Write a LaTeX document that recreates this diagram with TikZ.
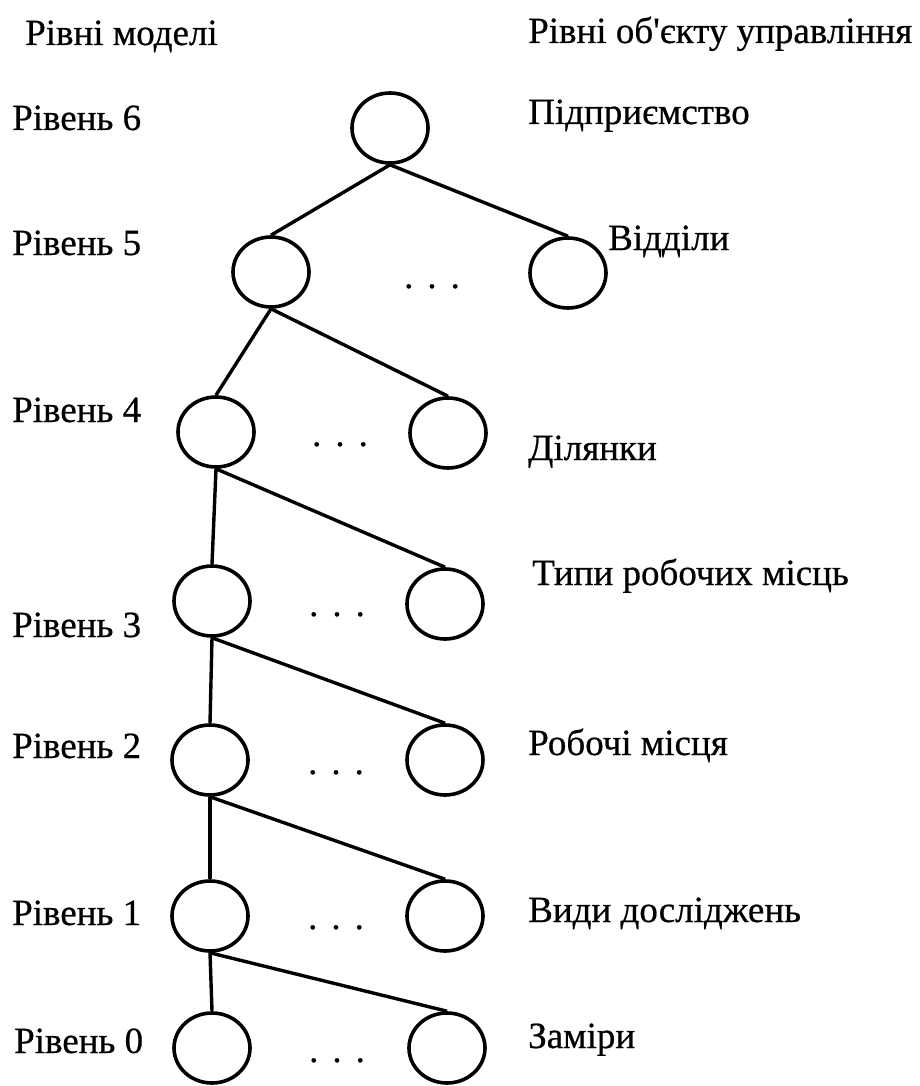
\documentclass[tikz,border=0pt]{standalone}
\usepackage{fontspec}
\setmainfont{Liberation Serif}
\newfontfamily\labelfont[FakeBold=0.6]{Liberation Serif}
\usetikzlibrary{shapes.geometric}
\begin{document}
\begin{tikzpicture}[x=1pt,y=-1pt,
  every node/.style={font=\labelfont\fontsize{37}{42}\selectfont},
  vertex/.style={draw, line width=3.6pt, ellipse, inner sep=0pt,
                 minimum width=76pt, minimum height=70pt},
  label/.style={anchor=base west, inner sep=0pt},
  dots/.style={anchor=base, inner sep=0pt},
  link/.style={line width=3.4pt}]
\useasboundingbox (0,0) rectangle (920,1086);

% column headings
\node[label] (hl) at (25,45) {Рівні моделі};
\node[label] (hr) at (528,43) {Рівні об\textquotesingle єкту управління};

% model levels
\node[label] (r6) at (12,130) {Рівень 6};
\node[label] (r5) at (12,255) {Рівень 5};
\node[label] (r4) at (12,422) {Рівень 4};
\node[label] (r3) at (12,637) {Рівень 3};
\node[label] (r2) at (12,758) {Рівень 2};
\node[label] (r1) at (12,925) {Рівень 1};
\node[label] (r0) at (14,1053) {Рівень 0};

% objects of control
\node[label] (o6) at (528,124) {Підприємство};
\node[label] (o5) at (608,250) {Відділи};
\node[label] (o4) at (528,460) {Ділянки};
\node[label] (o3) at (532,585) {Типи робочих місць};
\node[label] (o2) at (528,755) {Робочі місця};
\node[label] (o1) at (528,922) {Види досліджень};
\node[label] (o0) at (528,1048) {Заміри};

% tree vertices
\node[vertex] (v6)  at (390,128) {};
\node[vertex] (v5a) at (271,272) {};
\node[vertex] (v5b) at (568,273) {};
\node[vertex] (v4a) at (216,432) {};
\node[vertex] (v4b) at (448,433) {};
\node[vertex] (v3a) at (212,601) {};
\node[vertex] (v3b) at (445,604) {};
\node[vertex] (v2a) at (210,760) {};
\node[vertex] (v2b) at (445,760) {};
\node[vertex] (v1a) at (210,916) {};
\node[vertex] (v1b) at (445,916) {};
\node[vertex] (v0a) at (212,1048) {};
\node[vertex] (v0b) at (447,1048) {};

% ellipses between siblings
\node[dots] (d5) at (432,288) {.\hspace{14pt}.\hspace{14pt}.};
\node[dots] (d4) at (340,446) {.\hspace{14pt}.\hspace{14pt}.};
\node[dots] (d3) at (337,616) {.\hspace{14pt}.\hspace{14pt}.};
\node[dots] (d2) at (336,774) {.\hspace{14pt}.\hspace{14pt}.};
\node[dots] (d1) at (336,929) {.\hspace{14pt}.\hspace{14pt}.};
\node[dots] (d0) at (337,1062) {.\hspace{14pt}.\hspace{14pt}.};

% connections
\draw[link] (v6.south) -- (v5a.north);
\draw[link] (v6.south) -- (v5b.north);
\draw[link] (v5a.south) -- (v4a.north);
\draw[link] (v5a.south) -- (v4b.north);
\draw[link] (v4a.south) -- (v3a.north);
\draw[link] (v4a.south) -- (v3b.north);
\draw[link] (v3a.south) -- (v2a.north);
\draw[link] (v3a.south) -- (v2b.north);
\draw[link] (v2a.south) -- (v1a.north);
\draw[link] (v2a.south) -- (v1b.north);
\draw[link] (v1a.south) -- (v0a.north);
\draw[link] (v1a.south) -- (v0b.north);
\end{tikzpicture}
\end{document}
